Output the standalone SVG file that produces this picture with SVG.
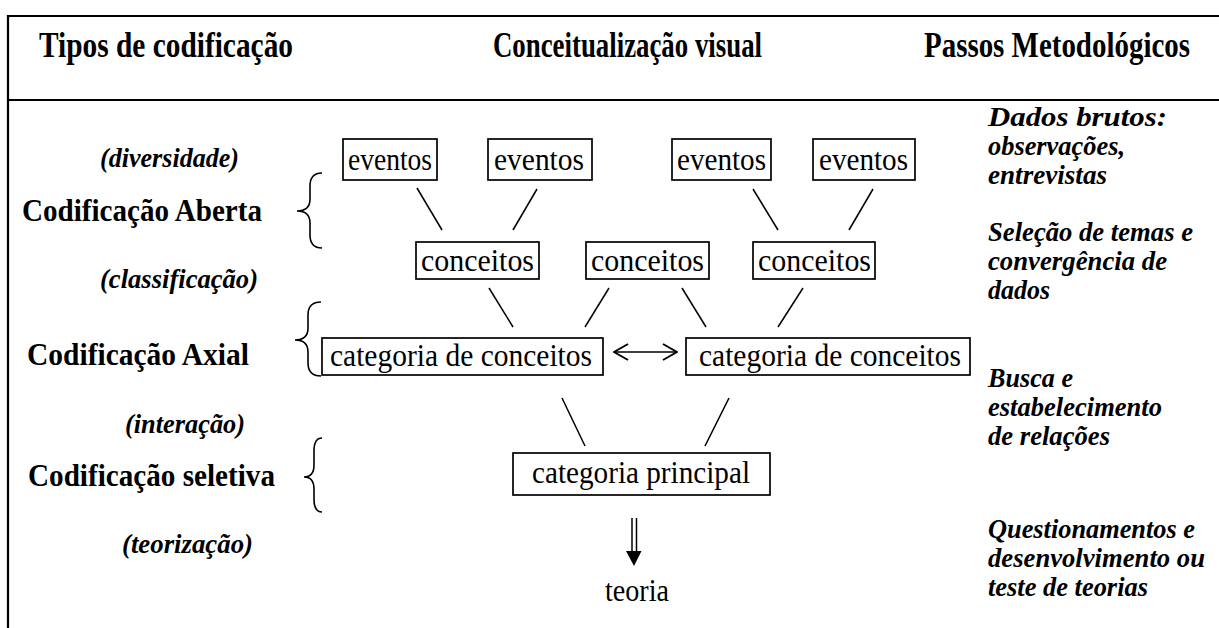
<svg xmlns="http://www.w3.org/2000/svg" width="1219" height="628" viewBox="0 0 1219 628">
<style>
.frame{stroke:#000;stroke-width:2.2;fill:none}
.box{fill:#fff;stroke:#000;stroke-width:1.7}
.ln{stroke:#000;stroke-width:1.5;fill:none}
.brace{stroke:#000;stroke-width:1.6;fill:none}
.t{font-family:"Liberation Serif","Times New Roman",serif;font-size:31px;fill:#000}
.h{font-family:"Liberation Serif","Times New Roman",serif;font-size:36px;font-weight:bold;fill:#000}
.lb{font-family:"Liberation Serif","Times New Roman",serif;font-size:31px;font-weight:bold;fill:#000}
.li{font-family:"Liberation Serif","Times New Roman",serif;font-size:28px;font-weight:bold;font-style:italic;fill:#000}
.ri{font-family:"Liberation Serif","Times New Roman",serif;font-size:28px;font-weight:bold;font-style:italic;fill:#000}
</style>
<defs>
<marker id="open" viewBox="0 0 16 18" refX="15" refY="9" markerWidth="16" markerHeight="18" markerUnits="userSpaceOnUse" orient="auto-start-reverse">
<path d="M1,1 L15,9 L1,17" fill="none" stroke="#000" stroke-width="2"/>
</marker>
</defs>
<rect width="1219" height="628" fill="#fff"/>
<g id="frame">
<line class="frame" x1="8" y1="16" x2="1219" y2="16"/>
<line class="frame" x1="8" y1="100" x2="1219" y2="100"/>
<line class="frame" x1="8" y1="15" x2="8" y2="628"/>
</g>
<g id="header">
<text class="h" x="39" y="57" textLength="254" lengthAdjust="spacingAndGlyphs">Tipos de codificação</text>
<text class="h" x="493" y="57" textLength="269" lengthAdjust="spacingAndGlyphs">Conceitualização visual</text>
<text class="h" x="924" y="57" textLength="266" lengthAdjust="spacingAndGlyphs">Passos Metodológicos</text>
</g>
<g id="left-labels">
<text class="li" x="100" y="167" textLength="139" lengthAdjust="spacingAndGlyphs">(diversidade)</text>
<text class="lb" x="22" y="221" textLength="240" lengthAdjust="spacingAndGlyphs">Codificação Aberta</text>
<text class="li" x="100" y="288" textLength="158" lengthAdjust="spacingAndGlyphs">(classificação)</text>
<text class="lb" x="27" y="365" textLength="222" lengthAdjust="spacingAndGlyphs">Codificação Axial</text>
<text class="li" x="125" y="433" textLength="120" lengthAdjust="spacingAndGlyphs">(interação)</text>
<text class="lb" x="28" y="486" textLength="247" lengthAdjust="spacingAndGlyphs">Codificação seletiva</text>
<text class="li" x="122" y="553" textLength="131" lengthAdjust="spacingAndGlyphs">(teorização)</text>
</g>
<g id="braces">
<path class="brace" d="M322,173 Q310,173 310,186 L310,199 Q310,211 297,211 Q310,211 310,223 L310,235 Q310,248 322,248"/>
<path class="brace" d="M321,302 Q308,302 308,315 L308,328 Q308,340 295,340 Q308,340 308,352 L308,363 Q308,376 321,376"/>
<path class="brace" d="M322,438 Q314,438 314,451 L314,465 Q314,477 304,477 Q314,477 314,489 L314,499 Q314,512 322,512"/>
</g>
<g id="right-labels">
<text class="ri" x="988" y="126" textLength="179" lengthAdjust="spacingAndGlyphs">Dados brutos:</text>
<text class="ri" x="988" y="155" textLength="137" lengthAdjust="spacingAndGlyphs">observações,</text>
<text class="ri" x="988" y="184" textLength="119" lengthAdjust="spacingAndGlyphs">entrevistas</text>
<text class="ri" x="988" y="241" textLength="205" lengthAdjust="spacingAndGlyphs">Seleção de temas e</text>
<text class="ri" x="988" y="270" textLength="179" lengthAdjust="spacingAndGlyphs">convergência de</text>
<text class="ri" x="988" y="299" textLength="62" lengthAdjust="spacingAndGlyphs">dados</text>
<text class="ri" x="988" y="387" textLength="85" lengthAdjust="spacingAndGlyphs">Busca e</text>
<text class="ri" x="988" y="416" textLength="174" lengthAdjust="spacingAndGlyphs">estabelecimento</text>
<text class="ri" x="988" y="445" textLength="122" lengthAdjust="spacingAndGlyphs">de relações</text>
<text class="ri" x="988" y="538" textLength="207" lengthAdjust="spacingAndGlyphs">Questionamentos e</text>
<text class="ri" x="988" y="567" textLength="217" lengthAdjust="spacingAndGlyphs">desenvolvimento ou</text>
<text class="ri" x="988" y="596" textLength="160" lengthAdjust="spacingAndGlyphs">teste de teorias</text>
</g>
<g id="connectors">
<line class="ln" x1="417" y1="188" x2="442" y2="230"/>
<line class="ln" x1="537" y1="189" x2="513" y2="230"/>
<line class="ln" x1="753" y1="189" x2="778" y2="230"/>
<line class="ln" x1="873" y1="189" x2="849" y2="230"/>
<line class="ln" x1="489" y1="288" x2="513" y2="327"/>
<line class="ln" x1="609" y1="288" x2="585" y2="327"/>
<line class="ln" x1="682" y1="288" x2="706" y2="327"/>
<line class="ln" x1="803" y1="288" x2="778" y2="327"/>
<line class="ln" x1="562" y1="398" x2="585" y2="446"/>
<line class="ln" x1="729" y1="398" x2="705" y2="446"/>
<line class="ln" x1="614" y1="352" x2="677" y2="352" stroke-width="1.8" marker-start="url(#open)" marker-end="url(#open)"/>
<line class="ln" x1="632" y1="518" x2="632" y2="553" stroke-width="1.3"/>
<line class="ln" x1="636.5" y1="518" x2="636.5" y2="553" stroke-width="1.3"/>
<path d="M626,551 L641.5,551 L634,566 Z" fill="#000"/>
</g>
<g id="n-eventos-1"><rect class="box" x="343" y="139" width="94" height="41"/><text class="t" x="348" y="170" textLength="84" lengthAdjust="spacingAndGlyphs">eventos</text></g>
<g id="n-eventos-2"><rect class="box" x="488" y="139" width="104" height="41"/><text class="t" x="494" y="170" textLength="90" lengthAdjust="spacingAndGlyphs">eventos</text></g>
<g id="n-eventos-3"><rect class="box" x="672" y="139" width="99" height="41"/><text class="t" x="677" y="170" textLength="89" lengthAdjust="spacingAndGlyphs">eventos</text></g>
<g id="n-eventos-4"><rect class="box" x="813" y="139" width="102" height="41"/><text class="t" x="819" y="170" textLength="89" lengthAdjust="spacingAndGlyphs">eventos</text></g>
<g id="n-conceitos-1"><rect class="box" x="416" y="242" width="123" height="37"/><text class="t" x="421" y="271" textLength="113" lengthAdjust="spacingAndGlyphs">conceitos</text></g>
<g id="n-conceitos-2"><rect class="box" x="586" y="242" width="123" height="37"/><text class="t" x="591" y="271" textLength="113" lengthAdjust="spacingAndGlyphs">conceitos</text></g>
<g id="n-conceitos-3"><rect class="box" x="753" y="242" width="122" height="37"/><text class="t" x="758" y="271" textLength="113" lengthAdjust="spacingAndGlyphs">conceitos</text></g>
<g id="n-categoria-1"><rect class="box" x="322" y="338" width="281" height="37"/><text class="t" x="330" y="366" textLength="262" lengthAdjust="spacingAndGlyphs">categoria de conceitos</text></g>
<g id="n-categoria-2"><rect class="box" x="686" y="338" width="284" height="37"/><text class="t" x="699" y="366" textLength="262" lengthAdjust="spacingAndGlyphs">categoria de conceitos</text></g>
<g id="n-principal"><rect class="box" x="513" y="453" width="257" height="42"/><text class="t" x="532" y="483" textLength="218" lengthAdjust="spacingAndGlyphs">categoria principal</text></g>
<g id="n-teoria"><text class="t" x="605" y="601" textLength="64" lengthAdjust="spacingAndGlyphs">teoria</text></g>
</svg>
